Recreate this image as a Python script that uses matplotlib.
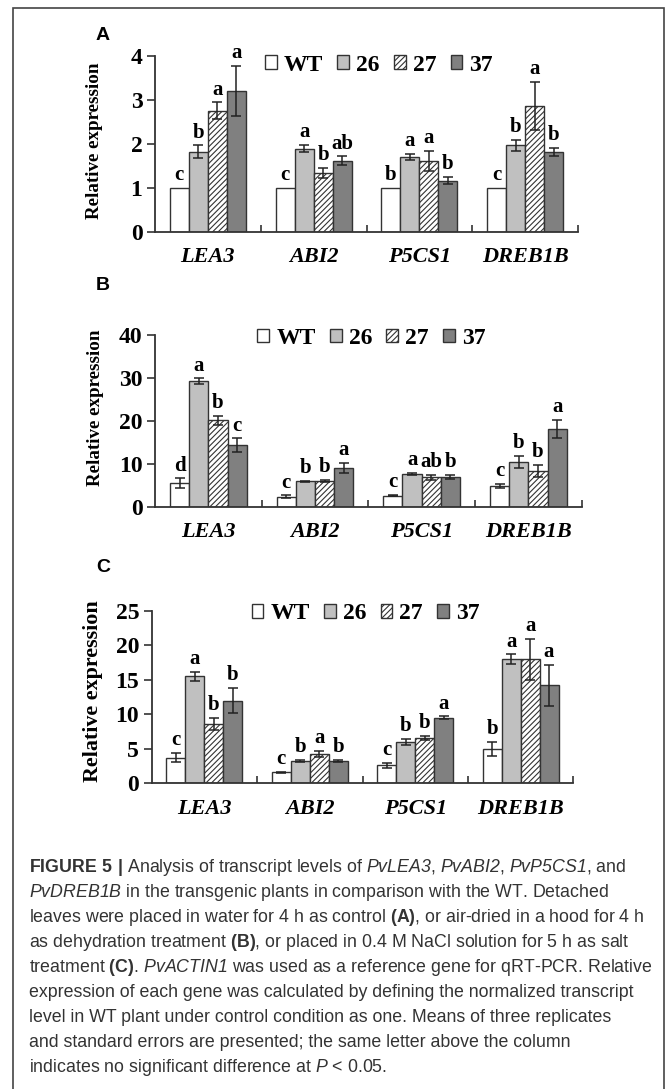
import numpy as np
import matplotlib.pyplot as plt
from matplotlib import font_manager
from matplotlib.patches import Rectangle

genes = ['LEA3', 'ABI2', 'P5CS1', 'DREB1B']
lines = ['WT', '26', '27', '37']

# (A) control: rows = lines WT, 26, 27, 37; columns = genes
a_mean = [[1.00, 1.00, 1.00, 1.00], [1.82, 1.89, 1.69, 1.96],
          [2.75, 1.34, 1.61, 2.86], [3.20, 1.61, 1.16, 1.82]]
a_err = [[0, 0, 0, 0], [0.14, 0.08, 0.07, 0.13],
         [0.19, 0.11, 0.22, 0.54], [0.56, 0.10, 0.08, 0.09]]
a_sig = [['c', 'c', 'b', 'c'], ['b', 'a', 'a', 'b'],
         ['a', 'b', 'a', 'a'], ['a', 'ab', 'b', 'b']]

# (B) dehydration
b_mean = [[5.5, 2.3, 2.6, 4.8], [29.2, 5.9, 7.6, 10.4],
          [20.1, 6.0, 6.9, 8.3], [14.3, 9.0, 6.9, 18.2]]
b_err = [[1.1, 0.35, 0.2, 0.5], [0.7, 0.2, 0.2, 1.4],
         [1.0, 0.2, 0.6, 1.45], [1.6, 1.2, 0.45, 2.1]]
b_sig = [['d', 'c', 'c', 'c'], ['a', 'b', 'a', 'b'],
         ['b', 'b', 'ab', 'b'], ['c', 'a', 'b', 'a']]

# (C) salt
c_mean = [[3.7, 1.6, 2.6, 5.0], [15.5, 3.2, 6.0, 18.0],
          [8.65, 4.25, 6.55, 18.0], [12.0, 3.2, 9.5, 14.2]]
c_err = [[0.67, 0.1, 0.35, 1.0], [0.7, 0.15, 0.5, 0.7],
         [0.85, 0.45, 0.3, 3.0], [1.85, 0.15, 0.2, 3.0]]
c_sig = [['c', 'c', 'c', 'b'], ['a', 'b', 'b', 'a'],
         ['b', 'a', 'b', 'a'], ['b', 'b', 'a', 'a']]

colors = ['white', '#c0c0c0', 'white', '#808080']
hatches = [None, None, '//////', None]

names = {f.name for f in font_manager.fontManager.ttflist}
cap_font = 'Liberation Sans Narrow' if 'Liberation Sans Narrow' in names else 'Liberation Sans'
serif = 'Liberation Serif'

plt.rcParams['mathtext.fontset'] = 'custom'
plt.rcParams['mathtext.rm'] = cap_font
plt.rcParams['mathtext.sf'] = cap_font + ':italic'
plt.rcParams['mathtext.bf'] = cap_font + ':bold'
plt.rcParams['hatch.linewidth'] = 0.8

W, H = 672, 1089
fig = plt.figure(figsize=(W / 100, H / 100), dpi=100)


def px_axes(left, right, top, bottom):
    return fig.add_axes([left / W, 1 - bottom / H, (right - left) / W, (bottom - top) / H])


def draw_panel(ax, means, errs, sig, ymax, ystep, leg_xy, ylab_xy, ylab_size):
    x = np.arange(len(genes))
    w = 0.18
    for i, line in enumerate(lines):
        xs = x + (i - 1.5) * w
        ax.bar(xs, means[i], w, color=colors[i], edgecolor='#333333', linewidth=1.0,
               hatch=hatches[i], label=line, zorder=2)
        for xx, m, e, s in zip(xs, means[i], errs[i], sig[i]):
            if e > 0:
                ax.errorbar(xx, m, yerr=e, fmt='none', ecolor='#222222', elinewidth=1.1,
                            capsize=3.5, capthick=1.1, zorder=3)
            ax.annotate(s, (xx, m + e), xytext=(0, 2), textcoords='offset points',
                        ha='center', va='bottom', fontsize=15, fontweight='bold', family=serif)
    ax.set_xlim(-0.5, 3.5)
    ax.set_ylim(0, ymax)
    ticks = np.arange(0, ymax + 1e-9, ystep)
    ax.set_yticks(ticks, [f'{t:g}' for t in ticks])
    ax.set_xticks(x, genes)
    ax.set_xticks([0.5, 1.5, 2.5, 3.5], minor=True)
    for lab in ax.get_yticklabels():
        lab.set(fontsize=17, fontweight='bold', family=serif)
    for lab in ax.get_xticklabels():
        lab.set(fontsize=16, fontweight='bold', fontstyle='italic', family=serif)
    ax.tick_params(axis='x', which='major', length=0, pad=11)
    ax.tick_params(axis='x', which='minor', direction='in', length=5, width=1.2, color='#333333')
    ax.tick_params(axis='y', length=6, width=1.2, color='#333333', pad=3)
    for side in ['top', 'right']:
        ax.spines[side].set_visible(False)
    for side in ['left', 'bottom']:
        ax.spines[side].set_linewidth(1.3)
        ax.spines[side].set_color('#333333')
    ax.set_ylabel('Relative expression', fontsize=ylab_size, fontweight='bold', family=serif)
    ax.yaxis.set_label_coords(*ylab_xy)
    ax.legend(ncol=4, loc='center left', bbox_to_anchor=leg_xy, frameon=False,
              prop={'family': serif, 'weight': 'bold', 'size': 17},
              handlelength=0.5, handleheight=0.5, handletextpad=0.3, columnspacing=0.6,
              borderpad=0, borderaxespad=0)


ax_a = px_axes(155, 578, 55.7, 231.7)
draw_panel(ax_a, a_mean, a_err, a_sig, 4, 1, (0.26, 0.947), (-0.123, 0.515), 13.7)
ax_b = px_axes(155, 581.7, 335, 506.7)
draw_panel(ax_b, b_mean, b_err, b_sig, 40, 10, (0.24, 0.98), (-0.1195, 0.578), 13.7)
ax_c = px_axes(151.7, 573.3, 611, 783.3)
draw_panel(ax_c, c_mean, c_err, c_sig, 25, 5, (0.237, 0.983), (-0.1155, 0.536), 15.8)

for letter, y in [('A', 35), ('B', 285), ('C', 568)]:
    fig.text(103 / W, 1 - y / H, letter, ha='center', va='center', fontsize=14,
             fontweight='bold', family='Liberation Sans')

fig.add_artist(Rectangle((13 / W, -0.01), (664 - 13) / W, 1.01 - 8 / H, transform=fig.transFigure,
                         fill=False, edgecolor='#444444', linewidth=1.2))

caption = [
    r'$\mathbf{FIGURE\ 5\ |}$ Analysis of transcript levels of $\mathsf{PvLEA3}$, $\mathsf{PvABI2}$, $\mathsf{PvP5CS1}$, and',
    r'$\mathsf{PvDREB1B}$ in the transgenic plants in comparison with the WT. Detached',
    r'leaves were placed in water for 4 h as control $\mathbf{(A)}$, or air-dried in a hood for 4 h',
    r'as dehydration treatment $\mathbf{(B)}$, or placed in 0.4 M NaCl solution for 5 h as salt',
    r'treatment $\mathbf{(C)}$. $\mathsf{PvACTIN1}$ was used as a reference gene for qRT-PCR. Relative',
    'expression of each gene was calculated by defining the normalized transcript',
    'level in WT plant under control condition as one. Means of three replicates',
    'and standard errors are presented; the same letter above the column',
    r'indicates no significant difference at $\mathsf{P}$ < 0.05.',
]
for i, text in enumerate(caption):
    fig.text(29 / W, 1 - (872 + 25 * i) / H, text, ha='left', va='baseline',
             fontsize=12.8, family=cap_font, color='#333333')

fig.savefig('out.png', dpi=100)
